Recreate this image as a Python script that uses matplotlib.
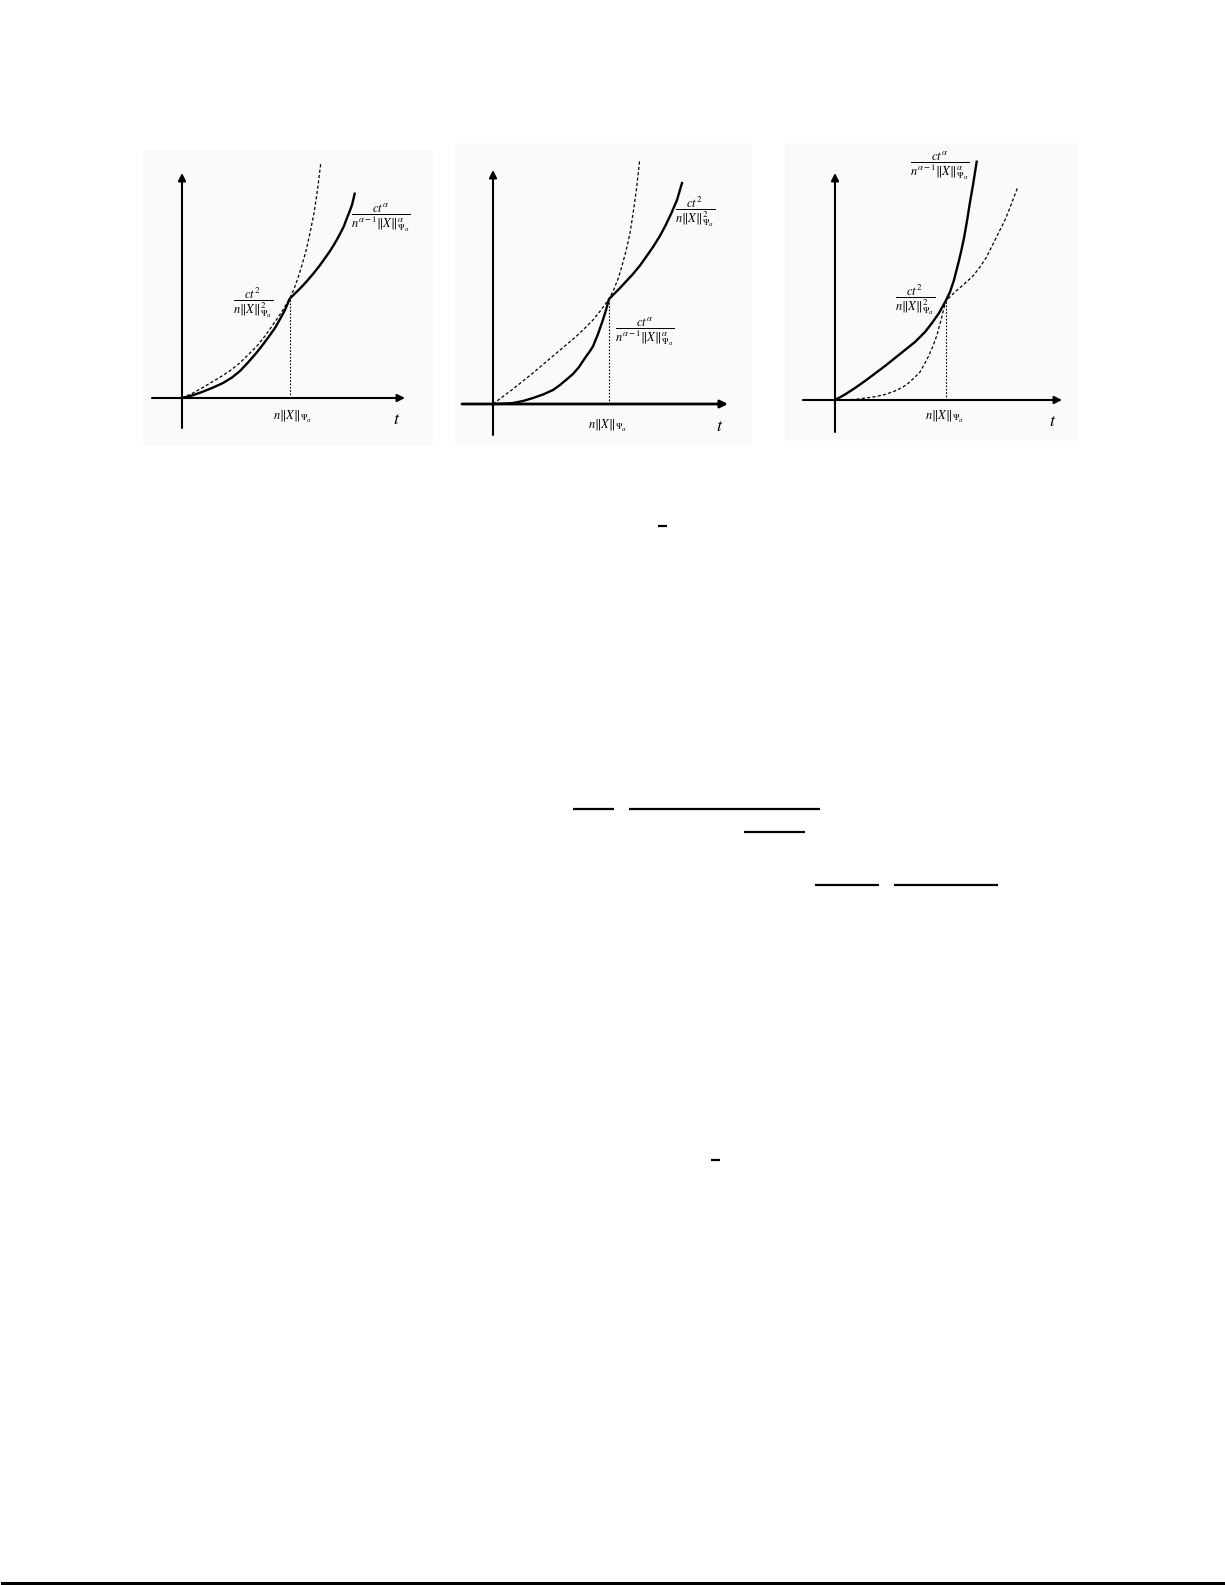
import matplotlib
matplotlib.use('Agg')
import matplotlib.pyplot as plt
from matplotlib.patches import Rectangle

plt.rcParams['mathtext.fontset'] = 'stix'
plt.rcParams['font.family'] = 'STIXGeneral'

W, H = 1225, 1585

# --- curve values (units: 1 = 100 px, crossing point at t = n||X||) ---
# panel 1
p1_dash_t = [0, 0.10, 0.20, 0.30, 0.40, 0.49, 0.577, 0.66, 0.75, 0.83, 0.91, 0.99, 1.077,
             1.12, 1.16, 1.20, 1.243, 1.28, 1.32, 1.355, 1.387]
p1_dash_y = [0, 0.045, 0.10, 0.16, 0.22, 0.28, 0.35, 0.43, 0.52, 0.62, 0.733, 0.85, 0.993,
             1.09, 1.20, 1.33, 1.483, 1.65, 1.85, 2.08, 2.343]
p1_solid_t = [0, 0.10, 0.20, 0.30, 0.41, 0.50, 0.58, 0.66, 0.743, 0.81, 0.88, 0.93, 0.977, 1.03, 1.077,
              1.15, 1.20, 1.25, 1.31, 1.37, 1.42, 1.47, 1.51, 1.55, 1.59, 1.62, 1.643, 1.67, 1.70, 1.727]
p1_solid_y = [0, 0.025, 0.06, 0.10, 0.15, 0.205, 0.27, 0.355, 0.45, 0.535, 0.63, 0.70, 0.783, 0.88, 0.993,
              1.065, 1.115, 1.17, 1.24, 1.315, 1.385, 1.455, 1.517, 1.585, 1.66, 1.72, 1.783, 1.85, 1.93, 2.043]
# panel 2
p2_dash_t = [0, 0.20, 0.40, 0.60, 0.833, 0.92, 1.00, 1.08, 1.16, 1.21, 1.25, 1.29, 1.333,
             1.37, 1.40, 1.435, 1.467]
p2_dash_y = [0, 0.15, 0.31, 0.48, 0.677, 0.76, 0.84, 0.94, 1.05, 1.15, 1.25, 1.38, 1.543,
             1.71, 1.90, 2.15, 2.443]
p2_solid_t = [0, 0.10, 0.20, 0.30, 0.40, 0.50, 0.60, 0.67, 0.733, 0.80, 0.86, 0.92, 0.97, 1.00,
              1.05, 1.10, 1.13, 1.16, 1.21, 1.27, 1.33, 1.40, 1.47, 1.53, 1.60, 1.667, 1.72, 1.78,
              1.84, 1.89]
p2_solid_y = [0, 0.003, 0.01, 0.03, 0.06, 0.095, 0.14, 0.19, 0.243, 0.30, 0.37, 0.46, 0.53, 0.577,
              0.70, 0.843, 0.94, 1.05, 1.10, 1.16, 1.225, 1.30, 1.385, 1.47, 1.57, 1.677, 1.775, 1.90,
              2.04, 2.21]
# panel 3
p3_solid_t = [0, 0.10, 0.20, 0.30, 0.40, 0.50, 0.60, 0.70, 0.80, 0.90, 0.97, 1.04, 1.107,
              1.15, 1.19, 1.233, 1.26, 1.29, 1.32, 1.35, 1.38, 1.417]
p3_solid_y = [0, 0.055, 0.12, 0.19, 0.265, 0.34, 0.42, 0.50, 0.58, 0.68, 0.77, 0.87, 0.99,
              1.08, 1.20, 1.367, 1.48, 1.62, 1.79, 1.98, 2.15, 2.383]
p3_dash_t = [0, 0.20, 0.40, 0.50, 0.60, 0.68, 0.733, 0.80, 0.85, 0.90, 0.933, 0.98, 1.02, 1.06, 1.107,
             1.20, 1.30, 1.38, 1.45, 1.51, 1.567, 1.63, 1.70, 1.76, 1.823]
p3_dash_y = [0, 0.005, 0.033, 0.055, 0.09, 0.13, 0.167, 0.23, 0.28, 0.37, 0.433, 0.54, 0.65, 0.80, 0.99,
             1.08, 1.167, 1.24, 1.33, 1.42, 1.533, 1.66, 1.80, 1.95, 2.117]

cross_t = [1.077, 1.16, 1.107]
cross_y = [0.993, 1.05, 0.99]

lbl_alpha = r'$\dfrac{ct^{\alpha}}{n^{\alpha-1}\Vert X\Vert_{\Psi_\alpha}^{\alpha}}$'
lbl_two = r'$\dfrac{ct^{2}}{n\Vert X\Vert_{\Psi_\alpha}^{2}}$'
lbl_norm = r'$n\Vert X\Vert_{\Psi_\alpha}$'

# page furniture: leftover fraction bars of the surrounding text (pixels)
bars_x0 = [658, 573, 629, 744, 815, 894, 711]
bars_x1 = [667, 614, 820, 805, 879, 998, 720]
bars_y = [526, 809, 809, 832, 885, 885, 1160]

fig = plt.figure(figsize=(W / 100, H / 100), dpi=100)
page = fig.add_axes([0, 0, 1, 1])
page.set_xlim(0, W)
page.set_ylim(H, 0)
page.axis('off')

# faint panel backgrounds
for x0, y0, x1, y1 in [(143, 150, 433, 446), (455, 143, 752, 444), (785, 143, 1077, 441)]:
    page.add_patch(Rectangle((x0, y0), x1 - x0, y1 - y0, color='#fafafa', lw=0))

for x0, x1, y in zip(bars_x0, bars_x1, bars_y):
    page.plot([x0, x1], [y, y], color='black', lw=1.6, solid_capstyle='butt')
page.plot([2, W - 2], [1583, 1583], color='black', lw=2.2)


def make_panel(ox, oy, xmin, xmax, ymin, ymax):
    # axes with 100 px per unit, origin at pixel (ox, oy)
    left = ox + xmin * 100
    bottom = oy - ymin * 100
    ax = fig.add_axes([left / W, 1 - bottom / H, (xmax - xmin) * 100 / W, (ymax - ymin) * 100 / H])
    ax.set_xlim(xmin, xmax)
    ax.set_ylim(ymin, ymax)
    ax.axis('off')
    ax.patch.set_alpha(0)
    return ax


def draw_axes(ax, xa, xb, ya, yb, lwx=1.5, lwy=1.5):
    ax.annotate('', xy=(xb, 0), xytext=(xa, 0),
                arrowprops=dict(arrowstyle='-|>', lw=lwx, color='black', mutation_scale=11, shrinkA=0, shrinkB=0))
    ax.annotate('', xy=(0, yb), xytext=(0, ya),
                arrowprops=dict(arrowstyle='-|>', lw=lwy, color='black', mutation_scale=11, shrinkA=0, shrinkB=0))


def dotted_drop(ax, t, y):
    ax.plot([t, t], [0, y], color='black', lw=0.8, linestyle=(0, (1.5, 1.5)))


def draw_curves(ax, dt, dy, st, sy):
    ax.plot(dt, dy, color='black', lw=0.9, linestyle=(0, (2.5, 1.8)))
    ax.plot(st, sy, color='black', lw=1.7, solid_joinstyle='round')


# panel 1
ax1 = make_panel(182, 398, -0.32, 2.30, -0.32, 2.45)
draw_axes(ax1, -0.30, 2.23, -0.30, 2.25)
draw_curves(ax1, p1_dash_t, p1_dash_y, p1_solid_t, p1_solid_y)
dotted_drop(ax1, cross_t[0], cross_y[0])
ax1.text(1.99, 1.80, lbl_alpha, fontsize=9, ha='center', va='center')
ax1.text(0.71, 0.95, lbl_two, fontsize=9, ha='center', va='center')
ax1.text(1.11, -0.19, lbl_norm, fontsize=9, ha='center', va='center')
ax1.text(2.15, -0.22, r'$t$', fontsize=13, ha='center', va='center')

# panel 2
ax2 = make_panel(493, 404, -0.33, 2.40, -0.33, 2.50)
draw_axes(ax2, -0.31, 2.35, -0.31, 2.34, lwx=2.0)
draw_curves(ax2, p2_dash_t, p2_dash_y, p2_solid_t, p2_solid_y)
dotted_drop(ax2, cross_t[1], cross_y[1])
ax2.text(2.02, 1.92, lbl_two, fontsize=9, ha='center', va='center')
ax2.text(1.52, 0.72, lbl_alpha, fontsize=9, ha='center', va='center')
ax2.text(1.15, -0.22, lbl_norm, fontsize=9, ha='center', va='center')
ax2.text(2.27, -0.23, r'$t$', fontsize=13, ha='center', va='center')

# panel 3
ax3 = make_panel(835, 400, -0.34, 2.32, -0.34, 2.55)
draw_axes(ax3, -0.32, 2.27, -0.32, 2.27)
draw_curves(ax3, p3_dash_t, p3_dash_y, p3_solid_t, p3_solid_y)
dotted_drop(ax3, cross_t[2], cross_y[2])
ax3.text(1.05, 2.34, lbl_alpha, fontsize=9, ha='center', va='center')
ax3.text(0.80, 1.00, lbl_two, fontsize=9, ha='center', va='center')
ax3.text(1.10, -0.17, lbl_norm, fontsize=9, ha='center', va='center')
ax3.text(2.18, -0.22, r'$t$', fontsize=13, ha='center', va='center')

fig.savefig('out.png', dpi=100)
plt.close(fig)
